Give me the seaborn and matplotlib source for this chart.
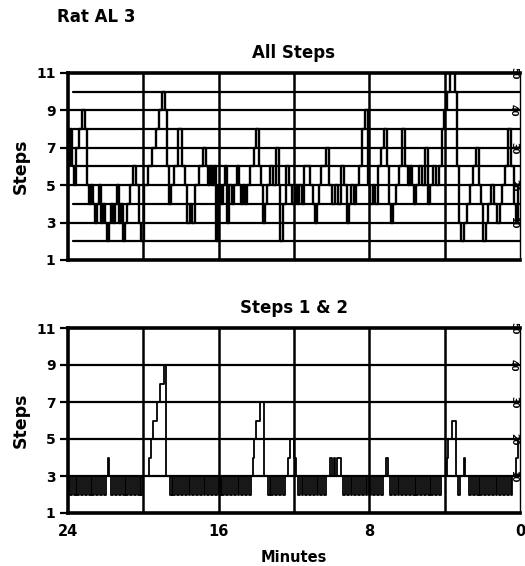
import numpy as np
import pandas as pd
import matplotlib
matplotlib.use("Agg")
import matplotlib.pyplot as plt
import seaborn as sns

sns.set_style("white")
plt.rcParams['font.family'] = ['DejaVu Sans']
plt.rcParams['font.weight'] = 'bold'
plt.rcParams['text.color'] = 'black'
plt.rcParams['axes.labelcolor'] = 'black'
plt.rcParams['xtick.color'] = 'black'
plt.rcParams['ytick.color'] = 'black'

# ---------------- text ----------------
fig_title = "Rat AL 3"
panel_titles = ["All Steps", "Steps 1 & 2"]
x_label = "Minutes"
y_label = "Steps"
x_ticks = [24, 20, 16, 12, 8, 4, 0]
x_tick_labels = ["24", "", "16", "", "8", "", "0"]
y_ticks = [11, 9, 7, 5, 3, 1]
y_tick_labels = ["11", "9", "7", "5", "3", "1"]
right_ticks = [11, 9, 7, 5, 3]
right_tick_labels = ["50", "40", "30", "20", "10"]
vertical_grid = [20, 16, 12, 8, 4]
top_levels = [2, 3, 4, 5, 6, 7, 8, 9, 10]
bottom_levels = [3, 5, 7, 9]

# ---------------- data: All Steps (minute at which each step level begins) ----------------
all_minutes = [24.00, 23.89, 23.79, 23.68, 23.57, 23.41, 23.25, 23.10, 22.99, 22.88,
               22.78, 22.67, 22.56, 22.46, 22.35, 22.24, 22.14, 22.03, 21.92, 21.82,
               21.71, 21.61, 21.50, 21.39, 21.29, 21.18, 21.07, 20.97, 20.86, 20.70,
               20.54, 20.38, 20.22, 20.12, 19.96, 19.74, 19.53, 19.32, 19.16, 19.00,
               18.84, 18.73, 18.62, 18.52, 18.36, 18.15, 17.93, 17.77, 17.67, 17.51,
               17.40, 17.24, 17.03, 16.82, 16.66, 16.55, 16.44, 16.34, 16.23, 16.12,
               16.02, 15.86, 15.75, 15.64, 15.54, 15.43, 15.27, 15.17, 15.01, 14.90,
               14.79, 14.69, 14.58, 14.47, 14.31, 14.10, 14.00, 13.84, 13.73, 13.62,
               13.52, 13.41, 13.25, 13.09, 12.98, 12.82, 12.72, 12.56, 12.40, 12.24,
               12.08, 11.92, 11.81, 11.71, 11.60, 11.49, 11.17, 11.01, 10.91, 10.80,
               10.69, 10.54, 10.32, 10.16, 10.00, 9.84, 9.68, 9.52, 9.36, 9.20,
               9.09, 8.99, 8.83, 8.73, 8.57, 8.41, 8.25, 8.09, 7.98, 7.82,
               7.71, 7.56, 7.40, 7.24, 7.07, 6.97, 6.86, 6.76, 6.60, 6.44,
               6.28, 6.12, 5.96, 5.85, 5.75, 5.64, 5.53, 5.37, 5.21, 5.05,
               4.89, 4.79, 4.63, 4.47, 4.31, 4.15, 4.04, 3.88, 3.72, 3.46,
               3.35, 3.25, 3.14, 2.98, 2.82, 2.66, 2.50, 2.34, 2.18, 2.07,
               1.97, 1.81, 1.70, 1.54, 1.38, 1.22, 1.06, 0.96, 0.80, 0.64,
               0.48, 0.32, 0.21, 0.10, 0.00]
all_steps = [6, 8, 6, 5, 7, 8, 9, 8, 5, 4,
             5, 4, 3, 4, 5, 3, 4, 3, 2, 3,
             4, 3, 4, 5, 3, 4, 2, 3, 4, 5,
             6, 5, 3, 2, 5, 6, 7, 8, 9, 10,
             9, 6, 4, 5, 6, 8, 6, 5, 3, 4,
             3, 5, 6, 7, 6, 5, 6, 5, 6, 2,
             5, 4, 5, 6, 3, 5, 4, 5, 6, 5,
             4, 5, 4, 5, 6, 7, 8, 6, 5, 3,
             4, 5, 6, 5, 7, 5, 2, 4, 6, 5,
             4, 5, 4, 5, 4, 6, 5, 4, 3, 4,
             5, 6, 7, 5, 4, 5, 4, 6, 5, 3,
             4, 5, 4, 5, 6, 8, 9, 5, 4, 5,
             4, 6, 7, 8, 6, 4, 3, 4, 5, 6,
             8, 6, 5, 6, 5, 4, 5, 6, 5, 7,
             4, 5, 6, 5, 6, 8, 9, 10, 11, 10,
             6, 3, 2, 3, 4, 5, 6, 7, 5, 4,
             2, 3, 4, 5, 4, 3, 4, 5, 6, 8,
             6, 4, 3, 5, 5]

# ---------------- data: Steps 1 & 2 (one reading every 0.1 min, 24 -> 0) ----------------
s12_steps = [3, 2, 3, 2, 3, 2, 3, 2, 3, 2, 3, 2, 3, 2, 3, 2, 3, 2, 3, 2,
             3, 4, 3, 2, 3, 2, 3, 2, 3, 2, 3, 2, 3, 2, 3, 2, 3, 2, 3, 2,
             3, 3, 3, 4, 5, 6, 6, 7, 7, 8, 8, 9, 3, 3, 2, 3, 2, 3, 2, 3,
             2, 3, 2, 3, 2, 3, 2, 3, 2, 3, 2, 3, 2, 3, 2, 3, 2, 3, 2, 3,
             2, 3, 2, 3, 2, 3, 2, 3, 2, 3, 2, 3, 2, 3, 2, 3, 2, 3, 4, 5,
             6, 6, 7, 7, 3, 3, 2, 3, 2, 3, 2, 3, 2, 3, 2, 3, 3, 4, 5, 5,
             4, 3, 2, 3, 2, 3, 2, 3, 2, 3, 2, 3, 2, 3, 2, 3, 2, 3, 3, 4,
             3, 4, 3, 4, 4, 3, 2, 3, 2, 3, 2, 3, 2, 3, 2, 3, 2, 3, 2, 3,
             2, 3, 2, 3, 2, 3, 2, 3, 3, 4, 3, 2, 3, 2, 3, 2, 3, 2, 3, 2,
             3, 2, 3, 2, 3, 2, 3, 2, 3, 2, 3, 2, 3, 2, 3, 2, 3, 2, 3, 3,
             3, 4, 5, 5, 6, 6, 3, 2, 3, 3, 4, 3, 3, 2, 3, 2, 3, 2, 3, 2,
             3, 2, 3, 2, 3, 2, 3, 2, 3, 2, 3, 2, 3, 2, 3, 2, 3, 3, 4, 5,
             5]
s12_minutes = np.round(np.linspace(24, 0, len(s12_steps)), 2)

df_all = pd.DataFrame({"minutes": all_minutes, "steps": all_steps})
df_12 = pd.DataFrame({"minutes": s12_minutes, "steps": s12_steps})

# ---------------- figure ----------------
W, H = 525, 566
fig = plt.figure(figsize=(W / 100, H / 100), dpi=100)
ax1 = fig.add_axes([68 / W, 1 - 260 / H, 452 / W, 187 / H])
ax2 = fig.add_axes([68 / W, 1 - 513 / H, 452 / W, 185 / H])

panels = [(ax1, df_all, top_levels, panel_titles[0], 1.7),
          (ax2, df_12, bottom_levels, panel_titles[1], 1.3)]

for ax, df, levels, ttl, trace_lw in panels:
    for lv in levels:
        start = 0.012 if (ax is ax1 and lv % 2 == 0) else 0.0
        ax.axhline(lv, xmin=start, xmax=1, color="black", lw=1.6, zorder=1)
    for vx in vertical_grid:
        ax.axvline(vx, color="black", lw=1.8, zorder=1)
    sns.lineplot(data=df, x="minutes", y="steps", ax=ax, sort=False,
                 estimator=None, drawstyle="steps-post", color="black",
                 lw=trace_lw, zorder=3)
    ax.set_xlim(24, 0)
    ax.set_ylim(1, 11)
    ax.set_xticks(x_ticks)
    ax.set_yticks(y_ticks)
    ax.set_yticklabels(y_tick_labels, fontsize=10, fontweight="bold")
    ax.tick_params(axis="x", direction="out", length=5, width=1.8, pad=3,
                   labelsize=10)
    ax.tick_params(axis="y", direction="out", length=6, width=1.6, pad=3,
                   labelsize=10)
    for side in ["left", "bottom", "top"]:
        ax.spines[side].set_linewidth(2.6)
        ax.spines[side].set_color("black")
    ax.spines["right"].set_linewidth(1.0)
    ax.spines["right"].set_color("black")
    ax.set_xlabel("")
    ax.set_ylabel(y_label, fontsize=12.5, fontweight="bold")
    ax.yaxis.set_label_coords(-0.085, 0.5)
    ax.set_title(ttl, fontsize=12, fontweight="bold", pad=11)

    axr = ax.twinx()
    axr.set_ylim(1, 11)
    axr.set_yticks(right_ticks)
    axr.set_yticklabels(right_tick_labels, fontsize=6.5, fontweight="bold",
                        rotation=-90, va="center")
    axr.tick_params(axis="y", direction="in", length=5, width=1.2, pad=-8)
    for s in axr.spines.values():
        s.set_visible(False)

ax1.set_xticklabels([])
ax2.set_xticklabels(x_tick_labels, fontsize=10.5, fontweight="bold")

fig.text(57 / W, 1 - 17 / H, fig_title, fontsize=12, fontweight="bold",
         ha="left", va="center")
fig.text(294 / W, 1 - 557 / H, x_label, fontsize=10.5, fontweight="bold",
         ha="center", va="center")

fig.savefig("out.png", dpi=100, facecolor="white")
